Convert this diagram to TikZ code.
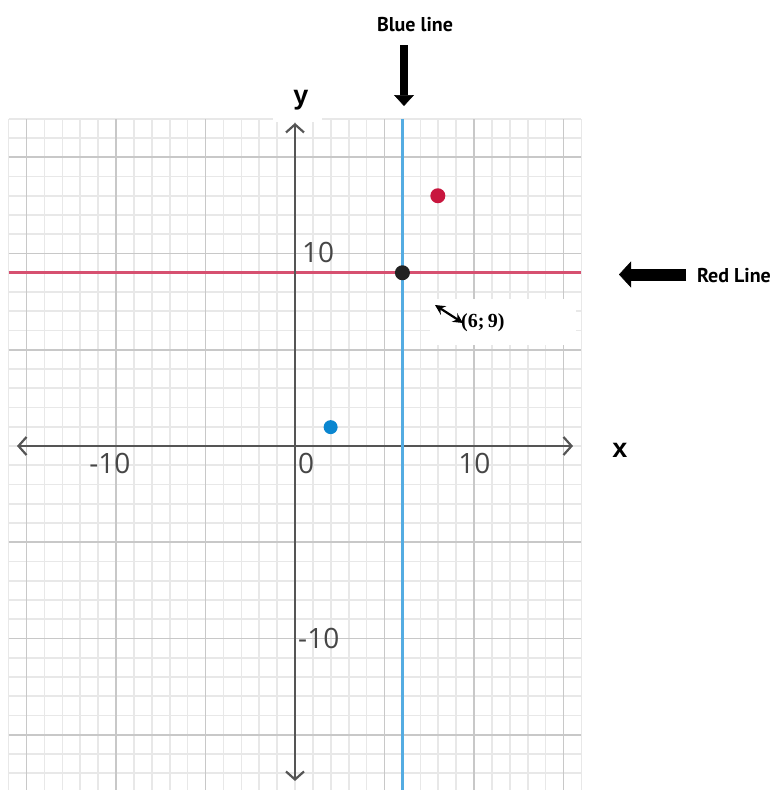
\documentclass[tikz,border=0pt]{standalone}
\usepackage{fontspec}
\usetikzlibrary{arrows.meta}
\newfontfamily\numfont{Open Sans}
\newfontfamily\lblfont{PT Sans}
\newfontfamily\axfont{Liberation Sans}
\newfontfamily\ptfont{Liberation Serif}
\definecolor{minorc}{RGB}{232,232,232}
\definecolor{majorc}{RGB}{200,200,200}
\definecolor{axisc}{RGB}{85,85,85}
\definecolor{numc}{RGB}{70,70,70}
\definecolor{redl}{RGB}{214,80,112}
\definecolor{bluel}{RGB}{84,172,226}
\definecolor{reddot}{RGB}{200,22,62}
\definecolor{bluedot}{RGB}{10,134,208}
\definecolor{blackdot}{RGB}{34,34,34}
\begin{document}
\begin{tikzpicture}[x=1pt,y=-1pt,
  minorline/.style={draw=minorc,line width=1.6pt},
  majorline/.style={draw=majorc,line width=1.8pt},
  axisline/.style={draw=axisc,line width=2.2pt,
    {Straight Barb[length=8pt,width=18pt]}-{Straight Barb[length=8pt,width=18pt]}},
  numlbl/.style={inner sep=0pt,text=numc,font=\numfont\fontsize{28}{30}\selectfont},
  axlbl/.style={inner sep=0pt,font=\axfont\bfseries\fontsize{27}{30}\selectfont},
  calllbl/.style={inner sep=0pt,font=\lblfont\bfseries\fontsize{20}{24}\selectfont},
  bigarrow/.style={draw=black,line width=#1},
  cover/.style={fill=white,draw=none},
  dotmark/.style={circle,inner sep=0pt,minimum size=15pt,fill=#1},
]
\useasboundingbox (0,0) rectangle (776,790);
\fill[white] (0,0) rectangle (776,790);
\begin{scope}
\clip (0,0) rectangle (776,790);
\begin{scope}[shift={(295,446)},x=17.9pt,y=19.25pt]
  % minor grid
  \foreach \i in {-16,...,16} \draw[minorline] (\i,-17.9) -- (\i,17);
  \foreach \j in {-17,...,17} \draw[minorline] (-16,\j) -- (16,\j);
  % major grid
  \foreach \i in {-15,-10,-5,5,10,15} \draw[majorline] (\i,-17.9) -- (\i,17);
  \foreach \j in {-15,-10,-5,5,10,15} \draw[majorline] (-16,\j) -- (16,\j);
\end{scope}
\end{scope}
% white patches over the grid
\path[cover] (273,99) rectangle (322,121.5);
\path[cover] (430,299) rectangle (576,345);
\begin{scope}[shift={(295,446)},x=17.9pt,y=19.25pt]
  % red and blue lines
  \coordinate (rl) at (-16,9);
  \coordinate (rr) at (16,9);
  \coordinate (bt) at (6,17);
  \coordinate (bb) at (6,-17.9);
  \draw[draw=redl,line width=2.6pt] (rl) -- (rr);
  % axes
  \coordinate (xl) at (-15.53,0);
  \coordinate (xr) at (15.53,0);
  \coordinate (yt) at (0,16.78);
  \coordinate (yb) at (0,-17.4);
  \draw[axisline] (xl) -- (xr);
  \draw[axisline] (yb) -- (yt);
  \draw[draw=bluel,line width=2.2pt] (bt) -- (bb);
  % tick labels
  \node[numlbl,anchor=north] (xm10) at (-10.34,-0.36) {-10};
  \node[numlbl,anchor=north] (xp10) at (10.02,-0.36) {10};
  \node[numlbl,anchor=north west] (x0) at (0.17,-0.36) {0};
  \node[numlbl,anchor=west] (yp10) at (0.39,10.03) {10};
  \node[numlbl,anchor=west] (ym10) at (0.17,-10) {-10};
  % points
  \node[dotmark=blackdot] (p69) at (6,9) {};
  \node[dotmark=reddot] (pred) at (7.98,13) {};
  \node[dotmark=bluedot,minimum size=14pt] (pblue) at (1.99,0.98) {};
\end{scope}
% axis letters
\node[axlbl] (ylab) at (301,100) {y};
\node[axlbl] (xlab) at (620,450) {x};
% callouts
\node[calllbl] (bluelab) at (415,25) {Blue line};
\node[calllbl] (redlab) at (734,276) {Red Line};
\coordinate (ba1) at (404,45);
\coordinate (ba2) at (404,106);
\draw[bigarrow=8pt,-{Triangle[length=11pt,width=20pt,line width=0.5pt]}] (ba1) -- (ba2);
\coordinate (ra1) at (686,274.5);
\coordinate (ra2) at (619,274.5);
\draw[bigarrow=12pt,-{Triangle[length=12pt,width=26pt,line width=0.5pt]}] (ra1) -- (ra2);
% coordinate label
\node[inner sep=0pt,anchor=west,font=\ptfont\bfseries\fontsize{20}{24}\selectfont] (ptlab) at (461,323) {(6;\,9)};
\coordinate (da1) at (435,305);
\coordinate (da2) at (463,323);
\draw[line width=2.2pt,{Stealth[length=10pt,width=10pt]}-{Stealth[length=10pt,width=10pt]}] (da1) -- (da2);
\end{tikzpicture}
\end{document}
